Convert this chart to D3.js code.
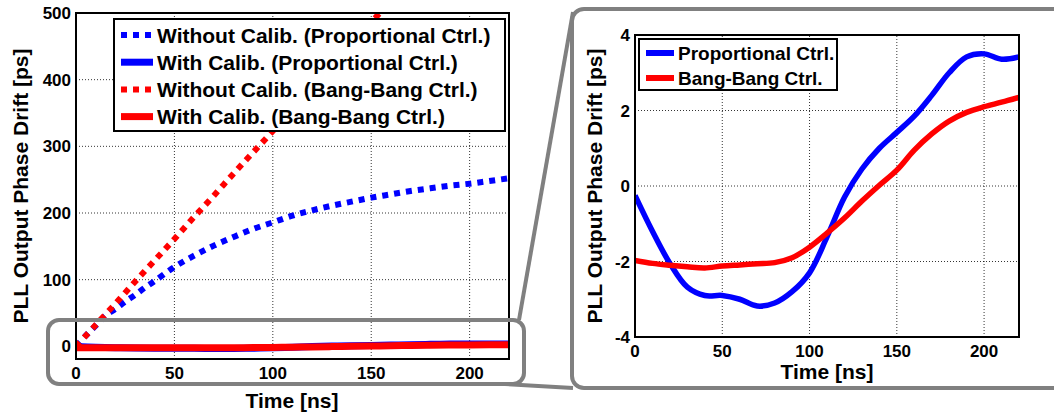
<!DOCTYPE html>
<html lang="en">
<head>
<meta charset="UTF-8">
<title>PLL Output Phase Drift</title>
<script src="https://d3js.org/d3.v7.min.js"></script>
<style>
  * { margin: 0; padding: 0; }
  body { background: #fff; }
  body > svg { display: block; font-family: "Liberation Sans", Arial, sans-serif; font-weight: bold; }
</style>
</head>
<body>
<script>
// drift without calibration, proportional control (ps)
var tProp = [0, 5, 10, 15, 20, 25, 30, 35, 40, 50, 60, 70, 80, 90, 100, 110, 120, 130, 140, 150, 160, 170, 180, 190, 200, 210, 220];
var propNoCal = [0, 16, 31, 46, 56, 67, 77, 88, 98, 119, 136, 151, 164, 176, 186, 196, 204, 211, 217, 223, 228, 233, 237, 241, 244, 248, 252];

// drift without calibration, bang-bang control (ps)
var tBB = [0, 10, 20, 30, 40, 50, 60, 70, 80, 90, 100, 110, 120, 130, 140, 150, 160];
var bbNoCal = [0, 32, 64, 97, 129, 161, 194, 226, 259, 291, 323, 356, 388, 421, 453, 486, 518];

// drift with calibration (ps)
var tCal = [0, 10, 20, 30, 40, 50, 60, 70, 80, 90, 100, 110, 120, 130, 140, 150, 160, 170, 180, 190, 200, 210, 220];
var propCal = [-0.25, -1.2, -2.05, -2.68, -2.9, -2.9, -3.0, -3.18, -3.1, -2.8, -2.3, -1.35, -0.3, 0.45, 1.0, 1.42, 1.85, 2.4, 3.0, 3.42, 3.5, 3.36, 3.42];
var bbCal = [-1.97, -2.05, -2.1, -2.14, -2.17, -2.12, -2.09, -2.06, -2.03, -1.9, -1.62, -1.25, -0.85, -0.4, 0.02, 0.42, 0.95, 1.38, 1.72, 1.95, 2.1, 2.22, 2.35];

var xTicks = [0, 50, 100, 150, 200];
var yTicksMain = [0, 100, 200, 300, 400, 500];
var yTicksZoom = [-4, -2, 0, 2, 4];

var legendMain = ["Without Calib. (Proportional Ctrl.)", "With Calib. (Proportional Ctrl.)",
                  "Without Calib. (Bang-Bang Ctrl.)", "With Calib. (Bang-Bang Ctrl.)"];
var legendZoom = ["Proportional Ctrl.", "Bang-Bang Ctrl."];

var width = 1054, height = 414;
var blue = "#0000ff", red = "#ff0000", gray = "#808080";

var svg = d3.select("body").append("svg")
  .attr("width", width)
  .attr("height", height);

function zip(t, v) {
  return t.map(function (d, i) { return [d, v[i]]; });
}

function axesFrame(g, x, y, yTicks, clipId) {
  var x0 = x.range()[0], x1 = x.range()[1];
  var y0 = y.range()[0], y1 = y.range()[1];

  g.append("clipPath").attr("id", clipId)
    .append("rect").attr("x", x0).attr("y", y1).attr("width", x1 - x0).attr("height", y0 - y1);

  g.selectAll(".vgrid").data(xTicks.filter(function (d) { return d > 0; }))
    .enter().append("line")
    .attr("x1", x).attr("x2", x).attr("y1", y0).attr("y2", y1)
    .attr("stroke", "#000").attr("stroke-width", 0.8).attr("stroke-dasharray", "1,2");

  g.selectAll(".hgrid").data(yTicks.filter(function (d) { return d > y.domain()[0] && d < y.domain()[1]; }))
    .enter().append("line")
    .attr("x1", x0).attr("x2", x1).attr("y1", y).attr("y2", y)
    .attr("stroke", "#000").attr("stroke-width", 0.8).attr("stroke-dasharray", "1,2");
}

function axesBox(g, x, y) {
  var x0 = x.range()[0], x1 = x.range()[1];
  var y0 = y.range()[0], y1 = y.range()[1];
  g.append("rect")
    .attr("x", x0).attr("y", y1).attr("width", x1 - x0).attr("height", y0 - y1)
    .attr("fill", "none").attr("stroke", "#000").attr("stroke-width", 2);
}

function tickLabels(g, x, y, yTicks, xBase, yRight) {
  g.selectAll(".xt").data(xTicks).enter().append("text")
    .attr("x", x).attr("y", xBase)
    .attr("text-anchor", "middle").attr("font-size", "17px")
    .text(function (d) { return d; });
  g.selectAll(".yt").data(yTicks).enter().append("text")
    .attr("x", yRight).attr("y", y).attr("dy", "0.36em")
    .attr("text-anchor", "end").attr("font-size", "17px")
    .text(function (d) { return d; });
}

// ---------- main plot ----------
var xM = d3.scaleLinear().domain([0, 220]).range([76, 509]);
var yM = d3.scaleLinear().domain([-19, 500]).range([359, 13]);
var gM = svg.append("g");

axesFrame(gM, xM, yM, yTicksMain, "clipMain");

var lineM = d3.line()
  .x(function (d) { return xM(d[0]); })
  .y(function (d) { return yM(d[1]); })
  .curve(d3.curveCatmullRom);

var dataM = gM.append("g").attr("clip-path", "url(#clipMain)");
dataM.append("path").datum(zip(tProp, propNoCal)).attr("d", lineM)
  .attr("fill", "none").attr("stroke", blue).attr("stroke-width", 6).attr("stroke-dasharray", "6,6");
dataM.append("path").datum(zip(tCal, propCal)).attr("d", lineM)
  .attr("fill", "none").attr("stroke", blue).attr("stroke-width", 7);
dataM.append("path").datum(zip(tBB, bbNoCal)).attr("d", lineM)
  .attr("fill", "none").attr("stroke", red).attr("stroke-width", 6).attr("stroke-dasharray", "6,6");
dataM.append("path").datum(zip(tCal, bbCal)).attr("d", lineM)
  .attr("fill", "none").attr("stroke", red).attr("stroke-width", 7);

// legend
var legM = gM.append("g");
legM.append("rect").attr("x", 114).attr("y", 19).attr("width", 391).attr("height", 112)
  .attr("fill", "#fff").attr("stroke", "#000").attr("stroke-width", 2);
var legStyles = [[blue, "6,6"], [blue, null], [red, "6,6"], [red, null]];
legendMain.forEach(function (label, i) {
  var cy = 35 + i * 27.2;
  legM.append("line").attr("x1", 121).attr("x2", 153).attr("y1", cy).attr("y2", cy)
    .attr("stroke", legStyles[i][0]).attr("stroke-width", legStyles[i][1] ? 6 : 7)
    .attr("stroke-dasharray", legStyles[i][1]);
  legM.append("text").attr("x", 157).attr("y", cy).attr("dy", "0.36em")
    .attr("font-size", "21px").text(label);
});

axesBox(gM, xM, yM);
tickLabels(gM, xM, yM, yTicksMain, 379, 71);

gM.append("text").attr("x", 292).attr("y", 408).attr("text-anchor", "middle")
  .attr("font-size", "21px").text("Time [ns]");
gM.append("text").attr("transform", "translate(28,186) rotate(-90)").attr("text-anchor", "middle")
  .attr("font-size", "21px").text("PLL Output Phase Drift [ps]");

// ---------- zoomed plot ----------
var xZ = d3.scaleLinear().domain([0, 220]).range([635, 1019]);
var yZ = d3.scaleLinear().domain([-4, 4]).range([337, 35]);
var gZ = svg.append("g");

axesFrame(gZ, xZ, yZ, yTicksZoom, "clipZoom");

var lineZ = d3.line()
  .x(function (d) { return xZ(d[0]); })
  .y(function (d) { return yZ(d[1]); })
  .curve(d3.curveCatmullRom);

var dataZ = gZ.append("g").attr("clip-path", "url(#clipZoom)");
dataZ.append("path").datum(zip(tCal, propCal)).attr("d", lineZ)
  .attr("fill", "none").attr("stroke", blue).attr("stroke-width", 5.5);
dataZ.append("path").datum(zip(tCal, bbCal)).attr("d", lineZ)
  .attr("fill", "none").attr("stroke", red).attr("stroke-width", 5.5);

var legZ = gZ.append("g");
legZ.append("rect").attr("x", 639).attr("y", 39).attr("width", 198).attr("height", 51)
  .attr("fill", "#fff").attr("stroke", "#000").attr("stroke-width", 2);
legendZoom.forEach(function (label, i) {
  var cy = 53 + i * 25;
  legZ.append("line").attr("x1", 646).attr("x2", 674).attr("y1", cy).attr("y2", cy)
    .attr("stroke", i === 0 ? blue : red).attr("stroke-width", 6);
  legZ.append("text").attr("x", 678).attr("y", cy).attr("dy", "0.36em")
    .attr("font-size", "19px").text(label);
});

axesBox(gZ, xZ, yZ);
tickLabels(gZ, xZ, yZ, yTicksZoom, 357, 630);

gZ.append("text").attr("x", 827).attr("y", 379).attr("text-anchor", "middle")
  .attr("font-size", "21px").text("Time [ns]");
gZ.append("text").attr("transform", "translate(602,186) rotate(-90)").attr("text-anchor", "middle")
  .attr("font-size", "21px").text("PLL Output Phase Drift [ps]");

// ---------- zoom callout ----------
var callout = svg.append("g").attr("fill", "none").attr("stroke", gray).attr("stroke-width", 4);
callout.append("rect").attr("x", 48).attr("y", 320).attr("width", 476).attr("height", 64).attr("rx", 11);
callout.append("rect").attr("x", 572).attr("y", 9).attr("width", 520).attr("height", 379).attr("rx", 12);
callout.append("line").attr("x1", 519).attr("y1", 320).attr("x2", 573).attr("y2", 12);
callout.append("line").attr("x1", 505).attr("y1", 384).attr("x2", 573).attr("y2", 388);
</script>
</body>
</html>
